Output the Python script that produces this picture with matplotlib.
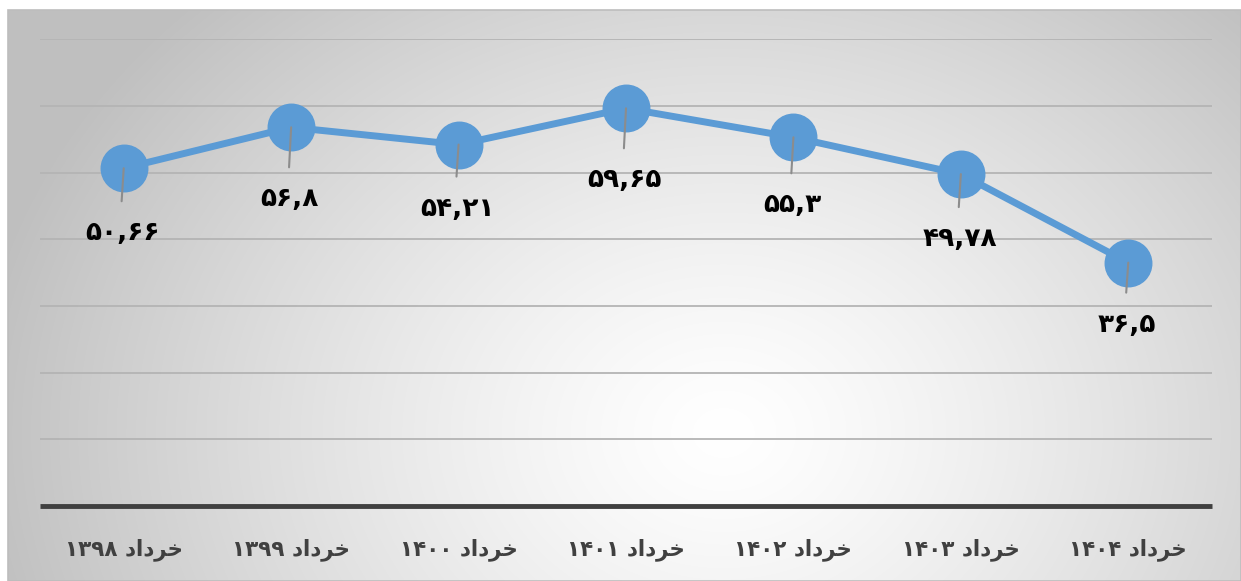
import numpy as np
import matplotlib.pyplot as plt
from matplotlib.patches import Rectangle

# data
years = ["۱۳۹۸", "۱۳۹۹", "۱۴۰۰", "۱۴۰۱", "۱۴۰۲", "۱۴۰۳", "۱۴۰۴"]
values = [50.66, 56.8, 54.21, 59.65, 55.3, 49.78, 36.5]
value_labels = ["۵۰,۶۶", "۵۶,۸", "۵۴,۲۱", "۵۹,۶۵", "۵۵,۳", "۴۹,۷۸", "۳۶,۵"]

# "خرداد" written with presentation forms in visual (left-to-right) order,
# since matplotlib does no Arabic shaping
month = "\uFEA9\uFE8D\uFEA9\uFEAE\uFEA7"
x_labels = [y + " " + month for y in years]

# label offsets below each marker, in pixels (text centre)
label_drop = [65, 72, 64, 72, 68, 65, 62]

W, H, DPI = 1241, 581, 100
fig = plt.figure(figsize=(W / DPI, H / DPI), dpi=DPI)
fig.patch.set_facecolor("white")

# radial gradient background
bg = fig.add_axes([0, 0, 1, 1])
bg.set_xlim(0, W)
bg.set_ylim(H, 0)
bg.axis("off")
yy, xx = np.mgrid[0:H, 0:W]
cx, cy = 720, 430
r = np.sqrt(((xx - cx) / 760.0) ** 2 + ((yy - cy) / 620.0) ** 2)
r = np.clip(r, 0, 1)
shade = 1.0 - 0.25 * r ** 1.3
img = np.dstack([shade, shade, shade])
bg.imshow(img, extent=(8, W, H, 10), zorder=0)
bg.add_patch(Rectangle((8, 10), W - 8, H - 10, fill=False,
                       edgecolor="#bdbdbd", linewidth=1.2, zorder=1))

# plot area in pixel coordinates: x 40..1212, y 39..506
left, right, top, bottom = 40, 1212, 39.3, 506
ax = fig.add_axes([left / W, 1 - bottom / H, (right - left) / W, (bottom - top) / H])
ax.set_facecolor("none")
ax.set_xlim(-0.5, len(values) - 0.5)
ax.set_ylim(0, 70)
ax.set_yticks(np.arange(10, 71, 10))
ax.yaxis.grid(True, color="#b4b4b4", linewidth=1.3)
ax.set_axisbelow(True)
for s in ["left", "right", "top"]:
    ax.spines[s].set_visible(False)
ax.spines["bottom"].set_color("#404040")
ax.spines["bottom"].set_linewidth(3.5)
ax.spines["bottom"].set_capstyle("butt")
ax.tick_params(axis="y", left=False, labelleft=False)
ax.tick_params(axis="x", bottom=False, pad=20)
xs = np.arange(len(values))
ax.set_xticks(xs)
ax.set_xticklabels(x_labels, fontsize=15.5, fontweight="bold",
                   color="#404040", family="DejaVu Sans")

ax.plot(xs, values, color="#5b9bd5", linewidth=5, marker="o",
        markersize=33.5, markerfacecolor="#5b9bd5", markeredgecolor="#5b9bd5",
        zorder=3, clip_on=False)

# leader lines and data labels
for x, v, lab, d in zip(xs, values, value_labels, label_drop):
    ax.annotate("", xy=(x, v), xytext=(-1.5, -(d - 32) * 0.72),
                textcoords="offset points",
                arrowprops=dict(arrowstyle="-", color="#8c8c8c", lw=1.5,
                                shrinkA=0, shrinkB=0), zorder=4)
    ax.annotate(lab, xy=(x, v), xytext=(-1, -d * 0.72),
                textcoords="offset points", ha="center", va="center",
                fontsize=19, fontweight="bold", color="black", zorder=5)

fig.savefig("out.png", dpi=DPI)
